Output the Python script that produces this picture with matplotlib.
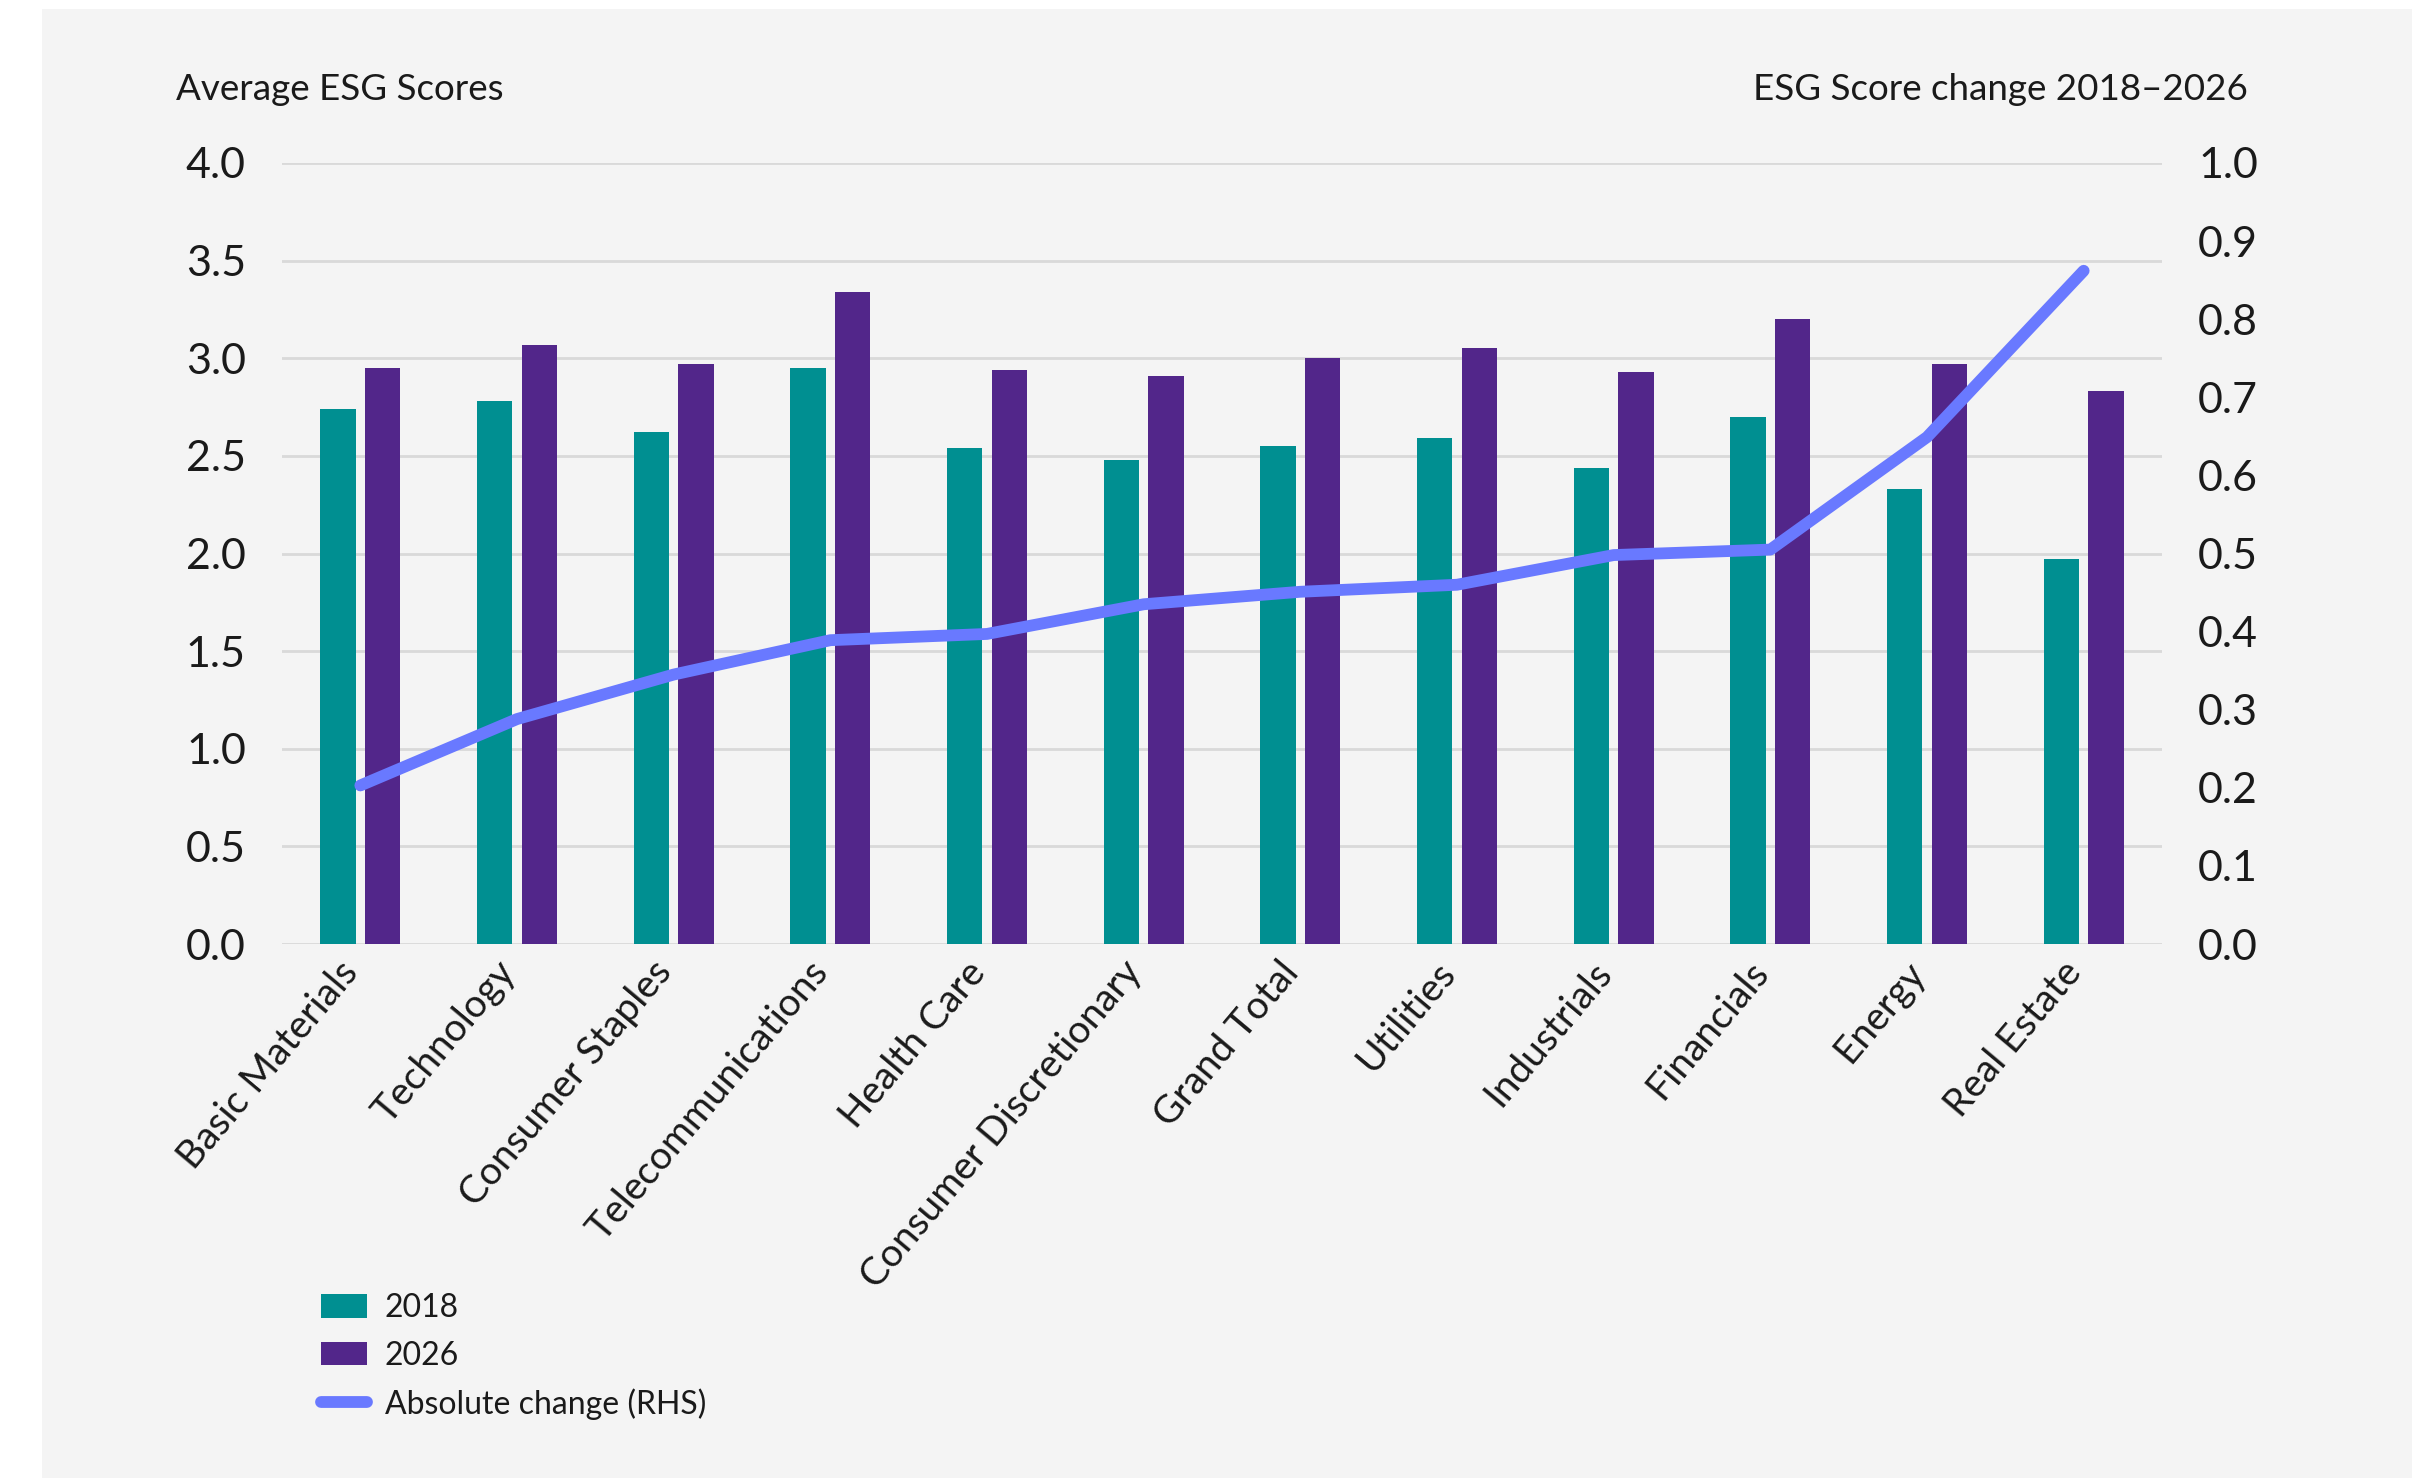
import matplotlib.pyplot as plt
import numpy as np
from matplotlib.patches import Rectangle

plt.rcParams['font.family'] = ['Lato', 'DejaVu Sans']

sectors = ["Basic Materials", "Technology", "Consumer Staples", "Telecommunications",
           "Health Care", "Consumer Discretionary", "Grand Total", "Utilities",
           "Industrials", "Financials", "Energy", "Real Estate"]
score_2018 = [2.74, 2.78, 2.62, 2.95, 2.54, 2.48, 2.55, 2.59, 2.44, 2.70, 2.33, 1.97]
score_2026 = [2.95, 3.07, 2.97, 3.34, 2.94, 2.91, 3.00, 3.05, 2.93, 3.20, 2.97, 2.83]
abs_change = [0.203, 0.288, 0.345, 0.389, 0.397, 0.435, 0.451, 0.460, 0.498, 0.505, 0.649, 0.862]
left_ticks = [0.0, 0.5, 1.0, 1.5, 2.0, 2.5, 3.0, 3.5, 4.0]
right_ticks = [0.0, 0.1, 0.2, 0.3, 0.4, 0.5, 0.6, 0.7, 0.8, 0.9, 1.0]

teal = "#008f91"
purple = "#52268a"
periwinkle = "#6979ff"
panel = "#f4f4f4"
grid_col = "#d9d9d9"
ink = "#1a1a1a"

fig = plt.figure(figsize=(24.23, 14.78), dpi=100)
fig.patch.set_facecolor("white")
# light grey card behind the chart
fig.patches.append(Rectangle((42 / 2423, 0), (2412 - 42) / 2423, 1 - 9 / 1478,
                             transform=fig.transFigure, facecolor=panel,
                             edgecolor="none", zorder=-10))

ax = fig.add_axes([282 / 2423, 1 - 944 / 1478, (2162 - 282) / 2423, (944 - 163) / 1478])
ax.set_facecolor("none")
x = np.arange(len(sectors))
w = 0.225
b1 = ax.bar(x - 0.143, score_2018, w, color=teal, label="2018", zorder=3)
b2 = ax.bar(x + 0.143, score_2026, w, color=purple, label="2026", zorder=3)

ax.set_ylim(0, 4.0)
ax.set_xlim(-0.5, len(sectors) - 0.5)
ax.set_yticks(left_ticks)
ax.set_yticklabels([f"{t:.1f}" for t in left_ticks])
ax.grid(axis="y", color=grid_col, linewidth=2.0, zorder=0)
ax.set_axisbelow(True)
for s in ax.spines.values():
    s.set_visible(False)
ax.tick_params(axis="y", length=0, pad=26, labelsize=31, labelcolor=ink)
ax.tick_params(axis="x", length=0, pad=21)
ax.set_xticks(x)
ax.set_xticklabels(sectors, rotation=50, ha="right", va="baseline",
                   rotation_mode="anchor", fontsize=28, color=ink)

ax2 = ax.twinx()
ln, = ax2.plot(x, abs_change, color=periwinkle, linewidth=8.5,
               solid_capstyle="round", solid_joinstyle="round",
               label="Absolute change (RHS)", zorder=4)
ax2.set_ylim(0, 1.0)
ax2.set_yticks(right_ticks)
ax2.set_yticklabels([f"{t:.1f}" for t in right_ticks])
for s in ax2.spines.values():
    s.set_visible(False)
ax2.tick_params(axis="y", length=0, pad=26, labelsize=31, labelcolor=ink)

fig.text(176 / 2423, 1 - 89 / 1478, "Average ESG Scores", fontsize=26.5,
         va="center", ha="left", color=ink)
fig.text(2248 / 2423, 1 - 89 / 1478, "ESG Score change 2018\u20132026", fontsize=26.5,
         va="center", ha="right", color=ink)

leg = fig.legend([b1, b2, ln], ["2018", "2026", "Absolute change (RHS)"],
                 loc="upper left", bbox_to_anchor=(321 / 2423, 1 - 1293 / 1478),
                 frameon=False, fontsize=23, handlelength=1.45, handleheight=0.75,
                 handletextpad=0.55, labelspacing=0.55, borderpad=0, borderaxespad=0)
for t in leg.get_texts():
    t.set_color(ink)

fig.savefig("out.png", dpi=100, facecolor=fig.get_facecolor())
